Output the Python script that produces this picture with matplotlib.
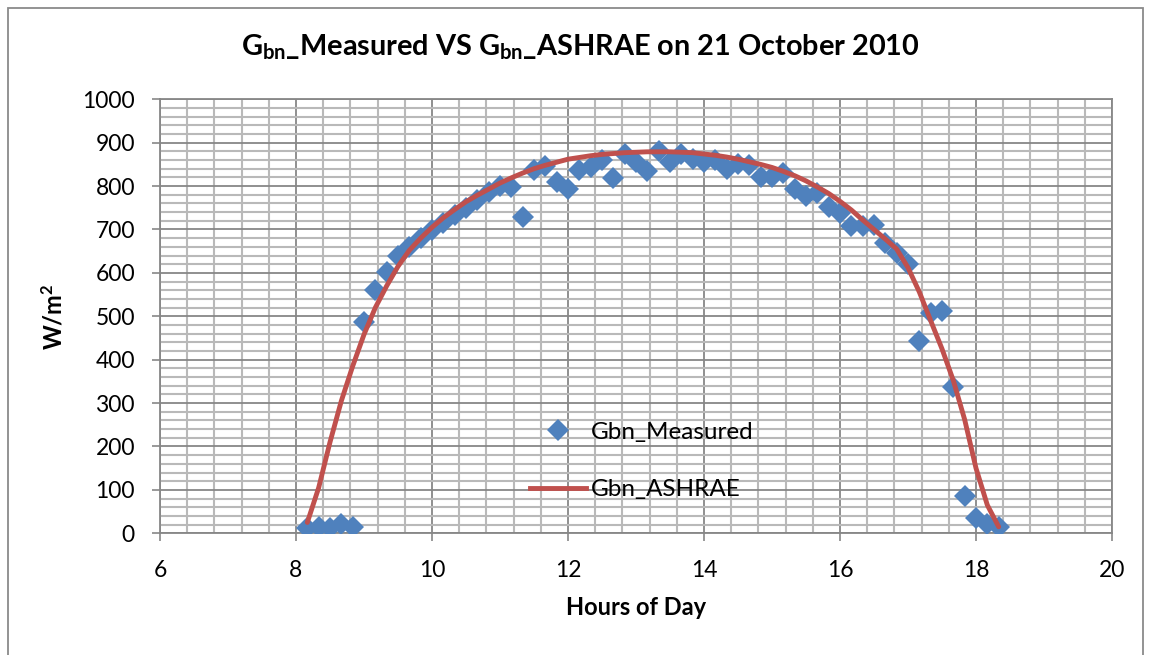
import numpy as np
import matplotlib
matplotlib.use("Agg")
import matplotlib.pyplot as plt
from matplotlib.ticker import MultipleLocator
from matplotlib.patches import Rectangle
from matplotlib.lines import Line2D

# ---- data ----
step = 1.0 / 6.0
start_hour = 8.0 + 1.0 / 6.0
n_points = 62
hours = [round(start_hour + i * step, 4) for i in range(n_points)]

gbn_measured = [
    12, 15, 13, 22, 15, 488, 561, 603, 638,
    660, 680, 698, 716, 733, 750, 768, 786, 800, 798,
    729, 838, 846, 810, 793, 836, 845, 861, 819, 874,
    855, 834, 880, 855, 874, 863, 855, 860, 840, 850,
    848, 820, 820, 830, 794, 778, 785, 752, 738, 707,
    708, 710, 668, 646, 620, 442, 508, 513, 338, 85,
    36, 22, 15,
]

gbn_ashrae = [
    25, 105, 210, 305, 385, 458, 520, 570, 615,
    652, 680, 705, 727, 746, 764, 779, 793, 807, 819,
    830, 840, 848, 855, 862, 866, 870, 873, 875, 877,
    878, 879, 879, 879, 878, 877, 874, 871, 867, 862,
    856, 850, 843, 834, 824, 812, 798, 783, 765, 745,
    722, 700, 678, 655, 612, 556, 490, 425, 352, 262,
    150, 65, 15,
]

x_ticks = [6, 8, 10, 12, 14, 16, 18, 20]
y_ticks = [0, 100, 200, 300, 400, 500, 600, 700, 800, 900, 1000]

title_txt = r"G$_{\mathbf{bn}}$_Measured VS G$_{\mathbf{bn}}$_ASHRAE on 21 October 2010"
x_label = "Hours of Day"
y_label = r"W/m$^{\mathbf{2}}$"

# ---- style ----
plt.rcParams["font.family"] = ["Lato", "DejaVu Sans"]
plt.rcParams["mathtext.fontset"] = "custom"
plt.rcParams["mathtext.rm"] = "Lato"
plt.rcParams["mathtext.bf"] = "Lato:bold"
plt.rcParams["mathtext.it"] = "Lato:italic"

W, H = 1150, 655
fig = plt.figure(figsize=(W / 100, H / 100), dpi=100)
ax_l, ax_r, ax_t, ax_b = 160, 1112, 99.3, 533.3
ax = fig.add_axes([ax_l / W, 1 - ax_b / H, (ax_r - ax_l) / W, (ax_b - ax_t) / H])

blue = "#4F81BD"
red = "#C0504D"
major_grid = "#878787"
minor_grid = "#B9B9B9"

ax.set_xlim(6, 20)
ax.set_ylim(0, 1000)
ax.set_xticks(x_ticks)
ax.set_yticks(y_ticks)
ax.xaxis.set_minor_locator(MultipleLocator(0.4))
ax.yaxis.set_minor_locator(MultipleLocator(20))
ax.grid(which="minor", color=minor_grid, linewidth=1.5)
ax.grid(which="major", color=major_grid, linewidth=1.3)
ax.set_axisbelow(True)

ax.tick_params(which="major", direction="out", length=6, width=1.2, color=major_grid,
               labelsize=16.5, labelcolor="black")
ax.tick_params(axis="x", which="major", pad=13)
ax.tick_params(axis="y", which="major", pad=12)
ax.tick_params(which="minor", length=0)
for s in ax.spines.values():
    s.set_color(major_grid)
    s.set_linewidth(1.3)

ax.plot(hours, gbn_measured, linestyle="none", marker="D", markersize=11,
        color=blue, markeredgewidth=0, label="Gbn_Measured", zorder=3)
ax.plot(hours, gbn_ashrae, color=red, linewidth=3.5, label="Gbn_ASHRAE",
        solid_capstyle="round", solid_joinstyle="round", zorder=4)

ax.set_xlabel(x_label, fontsize=17, fontweight="bold", labelpad=11)
ax.set_ylabel(y_label, fontsize=17, fontweight="bold", labelpad=12)

fig.text(580 / W, 1 - 47 / H, title_txt, ha="center", va="center",
         fontsize=20.8, fontweight="bold")

handles = [
    Line2D([], [], linestyle="none", marker="D", markersize=11, color=blue, markeredgewidth=0),
    Line2D([], [], color=red, linewidth=3.5),
]
leg = ax.legend(handles, ["Gbn_Measured", "Gbn_ASHRAE"], loc="center left",
                bbox_to_anchor=((520 - ax_l) / (ax_r - ax_l), 1 - (461 - ax_t) / (ax_b - ax_t)),
                frameon=False, fontsize=17.5, handlelength=2.3, handletextpad=0.2,
                labelspacing=1.5, borderaxespad=0)

# chart-area border
fig.patches.append(Rectangle((8 / W, -0.05), (1143 - 8) / W, 1.05 - 8 / H,
                             transform=fig.transFigure, fill=False,
                             edgecolor="#8a8a8a", linewidth=1.3))

fig.savefig("out.png", dpi=100, facecolor="white")
